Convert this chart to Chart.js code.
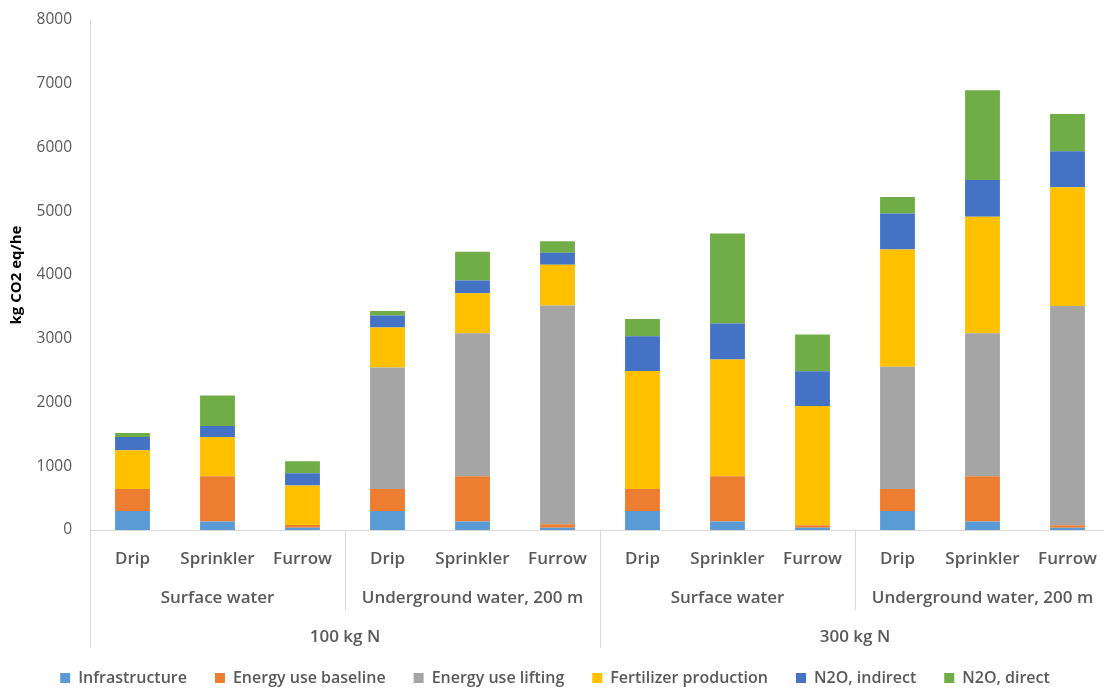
<!DOCTYPE html>
<html>
<head>
<meta charset="utf-8">
<script src="https://cdn.jsdelivr.net/npm/chart.js@4/dist/chart.umd.min.js"></script>
<style>
  html, body { margin: 0; padding: 0; background: #fff; overflow: hidden; }
  #wrap { width: 1104px; height: 688px; overflow: hidden; }
</style>
</head>
<body>
<div id="wrap"><canvas id="co2Chart" width="1110" height="688"></canvas></div>
<script>
const categories = ["Drip", "Sprinkler", "Furrow", "Drip", "Sprinkler", "Furrow",
                    "Drip", "Sprinkler", "Furrow", "Drip", "Sprinkler", "Furrow"];
const waterGroups = ["Surface water", "Underground water, 200 m", "Surface water", "Underground water, 200 m"];
const nitrogenGroups = ["100 kg N", "300 kg N"];
const yTicks = [0, 1000, 2000, 3000, 4000, 5000, 6000, 7000, 8000];

const infrastructure = [300, 135, 35, 300, 135, 35, 300, 135, 35, 300, 135, 35];
const energyBaseline = [345, 710, 45, 345, 710, 55, 345, 710, 40, 345, 710, 40];
const energyLifting = [0, 0, 0, 1905, 2240, 3430, 0, 0, 0, 1915, 2240, 3440];
const fertilizer = [605, 615, 620, 625, 630, 640, 1850, 1830, 1870, 1840, 1830, 1860];
const n2oIndirect = [210, 170, 190, 190, 200, 190, 545, 565, 545, 565, 575, 565];
const n2oDirect = [60, 480, 190, 70, 450, 180, 270, 1410, 575, 260, 1410, 585];

const FONT = "'Open Sans', 'Noto Sans', sans-serif";

// group labels + separators under the category ticks
const groupPlugin = {
  id: "groupLabels",
  afterLayout(chart) {
    // push the legend a bit lower, like the original
    if (chart.legend) {
      chart.legend.top += 8;
      chart.legend.bottom += 8;
    }
  },
  afterDraw(chart) {
    const { ctx, chartArea } = chart;
    const x = chart.scales.x;
    const step = x.getPixelForValue(1) - x.getPixelForValue(0);
    const edge = i => x.getPixelForValue(i) - step / 2;
    const bottom = chartArea.bottom;

    ctx.save();
    ctx.strokeStyle = "#d9d9d9";
    ctx.lineWidth = 1;
    ctx.fillStyle = "#595959";
    ctx.textAlign = "center";
    ctx.textBaseline = "middle";
    ctx.font = "600 17px " + FONT;

    waterGroups.forEach((g, k) => {
      const a = edge(k * 3), b = edge(k * 3 + 3);
      ctx.fillText(g, (a + b) / 2, bottom + 68);
      const xs = Math.round(a) + 0.5;
      const yEnd = (k % 2 === 0) ? bottom + 118 : bottom + 80;
      ctx.beginPath();
      ctx.moveTo(xs, bottom);
      ctx.lineTo(xs, yEnd);
      ctx.stroke();
    });

    nitrogenGroups.forEach((g, k) => {
      const a = edge(k * 6), b = edge(k * 6 + 6);
      ctx.fillText(g, (a + b) / 2, bottom + 107);
    });
    ctx.restore();
  }
};

const ctx = document.getElementById("co2Chart").getContext("2d");
const chart = new Chart(ctx, {
  type: "bar",
  data: {
    labels: categories,
    datasets: [
      { label: "Infrastructure", data: infrastructure, backgroundColor: "#5B9BD5" },
      { label: "Energy use baseline", data: energyBaseline, backgroundColor: "#ED7D31" },
      { label: "Energy use lifting", data: energyLifting, backgroundColor: "#A5A5A5" },
      { label: "Fertilizer production", data: fertilizer, backgroundColor: "#FFC000" },
      { label: "N2O, indirect", data: n2oIndirect, backgroundColor: "#4472C4" },
      { label: "N2O, direct", data: n2oDirect, backgroundColor: "#70AD47" }
    ]
  },
  options: {
    responsive: false,
    animation: false,
    layout: { padding: { top: 20, left: 0, right: 0, bottom: 0 } },
    datasets: {
      bar: { categoryPercentage: 1.0, barPercentage: 0.41, borderWidth: 0 }
    },
    scales: {
      x: {
        stacked: true,
        grid: { display: false },
        border: { display: true, color: "#d9d9d9" },
        ticks: {
          color: "#595959",
          font: { family: FONT, size: 17, weight: "600" },
          padding: 11,
          maxRotation: 0,
          autoSkip: false
        },
        afterFit(scale) {
          const legendH = scale.chart.legend ? scale.chart.legend.height : 0;
          scale.height = 688 - 530 - legendH;
          scale.paddingLeft = 0;
          scale.paddingRight = 0;
        }
      },
      y: {
        stacked: true,
        min: 0,
        max: 8000,
        grid: { display: false, drawTicks: false },
        border: { display: true, color: "#d9d9d9" },
        afterBuildTicks(scale) {
          scale.ticks = yTicks.map(v => ({ value: v }));
        },
        ticks: {
          color: "#595959",
          font: { family: FONT, size: 15.5 },
          padding: 18,
          callback: v => String(v)
        },
        title: {
          display: true,
          text: "kg CO2 eq/he",
          color: "#000",
          font: { family: FONT, size: 15, weight: "bold" },
          padding: { top: 8, bottom: 0 }
        },
        afterFit(scale) {
          scale.width = 90;
          scale.paddingTop = 0;
          scale.paddingBottom = 0;
        }
      }
    },
    plugins: {
      legend: {
        position: "bottom",
        labels: {
          boxWidth: 10,
          boxHeight: 10,
          padding: 28,
          color: "#595959",
          font: { family: FONT, size: 16, weight: "600" }
        }
      },
      tooltip: { enabled: false },
      title: { display: false }
    }
  },
  plugins: [groupPlugin]
});
</script>
</body>
</html>
